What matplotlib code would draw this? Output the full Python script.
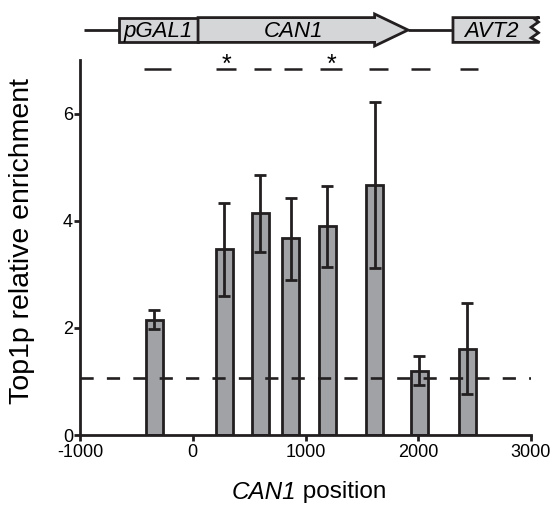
import matplotlib.pyplot as plt
from matplotlib.patches import Rectangle, Polygon

plt.rcParams['font.family'] = ['Liberation Sans', 'DejaVu Sans']
plt.rcParams['axes.unicode_minus'] = False

# ChIP amplicon positions along CAN1 (bp) and Top1p enrichment
positions = [-340, 280, 600, 870, 1195, 1615, 2010, 2435]
enrichment = [2.15, 3.47, 4.14, 3.67, 3.90, 4.66, 1.20, 1.61]
err_low = [1.97, 2.60, 3.41, 2.90, 3.13, 3.11, 0.93, 0.76]
err_high = [2.33, 4.33, 4.85, 4.43, 4.65, 6.22, 1.47, 2.47]
baseline = 1.07

# amplicon extents for the dashes above the bars
amp_start = [-435, 210, 543, 809, 1126, 1560, 1939, 2367]
amp_end = [-189, 387, 697, 969, 1327, 1730, 2101, 2529]
significant = [False, True, False, False, True, False, False, False]

# gene map (bp)
pgal1 = (-653, 47)
can1 = (47, 1613, 1909)   # start, arrow body end, tip
avt2 = (2308, 3076)
map_line = [(-966, -653), (1909, 2308)]

edge = '#231f20'
bar_col = '#a1a2a6'
box_col = '#d5d6d8'

fig = plt.figure(figsize=(5.53, 5.07), dpi=100)
ax = fig.add_axes([80 / 553, 1 - 435 / 507, 451 / 553, 375 / 507])

lo = [v - l for v, l in zip(enrichment, err_low)]
hi = [h - v for v, h in zip(enrichment, err_high)]
ax.bar(positions, enrichment, width=150, color=bar_col, edgecolor=edge,
       linewidth=2, zorder=2)
ax.errorbar(positions, enrichment, yerr=[lo, hi], fmt='none', ecolor=edge,
            elinewidth=2, capsize=4, capthick=2, zorder=3)
ax.plot([-1000, 3000], [baseline, baseline], color=edge, lw=1.9,
        dashes=(5, 5), zorder=4)

ax.hlines([6.84] * len(amp_start), amp_start, amp_end, color=edge, lw=1.8,
          clip_on=False)
for s, e, sig in zip(amp_start, amp_end, significant):
    if sig:
        ax.text((s + e) / 2, 6.78, '*', ha='center', va='baseline',
                fontsize=18, clip_on=False)

ax.set_xlim(-1000, 3000)
ax.set_ylim(0, 7)
ax.set_xticks([-1000, 0, 1000, 2000, 3000])
ax.set_yticks([0, 2, 4, 6])
ax.spines['top'].set_visible(False)
ax.spines['right'].set_visible(False)
for s in ['left', 'bottom']:
    ax.spines[s].set_linewidth(2)
    ax.spines[s].set_color(edge)
ax.tick_params(width=2, length=4, color=edge, labelsize=13, pad=1)
ax.tick_params(axis='x', pad=2.5)
ax.set_ylabel('Top1p relative enrichment', fontsize=20.5)
ax.yaxis.set_label_coords(-0.1, 0.516)

# x label: italic gene name followed by upright text
ax.text(0.48, -0.153, 'CAN1', style='italic', fontsize=17.5, ha='right',
        va='center', transform=ax.transAxes)
ax.text(0.48, -0.153, ' position', fontsize=17.5, ha='left', va='center',
        transform=ax.transAxes)

# gene map axes
gax = fig.add_axes([80 / 553, 1 - 50 / 507, 451 / 553, 40 / 507], sharex=ax)
gax.set_ylim(0, 1)
gax.axis('off')
for a, b in map_line:
    gax.plot([a, b], [0.5, 0.5], color=edge, lw=2, solid_capstyle='butt')
gax.add_patch(Rectangle((pgal1[0], 0.19), pgal1[1] - pgal1[0], 0.62,
                        facecolor=box_col, edgecolor=edge, lw=2))
gax.add_patch(Polygon([(can1[0], 0.19), (can1[1], 0.19), (can1[1], 0.1),
                       (can1[2], 0.5), (can1[1], 0.9), (can1[1], 0.81),
                       (can1[0], 0.81)],
                      facecolor=box_col, edgecolor=edge, lw=2))
z = 75
gax.add_patch(Polygon([(avt2[0], 0.19), (avt2[1], 0.19), (avt2[1] - z, 0.3),
                       (avt2[1] - 10, 0.43), (avt2[1] - z, 0.57),
                       (avt2[1] - 10, 0.7), (avt2[1] - z * 0.6, 0.78),
                       (avt2[1], 0.81), (avt2[0], 0.81)][::-1],
                      facecolor=box_col, edgecolor=edge, lw=2, clip_on=False))
gax.text(sum(pgal1) / 2, 0.47, 'pGAL1', style='italic', ha='center',
         va='center', fontsize=16)
gax.text(890, 0.47, 'CAN1', style='italic', ha='center',
         va='center', fontsize=16)
gax.text(2650, 0.47, 'AVT2', style='italic', ha='center',
         va='center', fontsize=16)

fig.savefig('out.png', dpi=100)
